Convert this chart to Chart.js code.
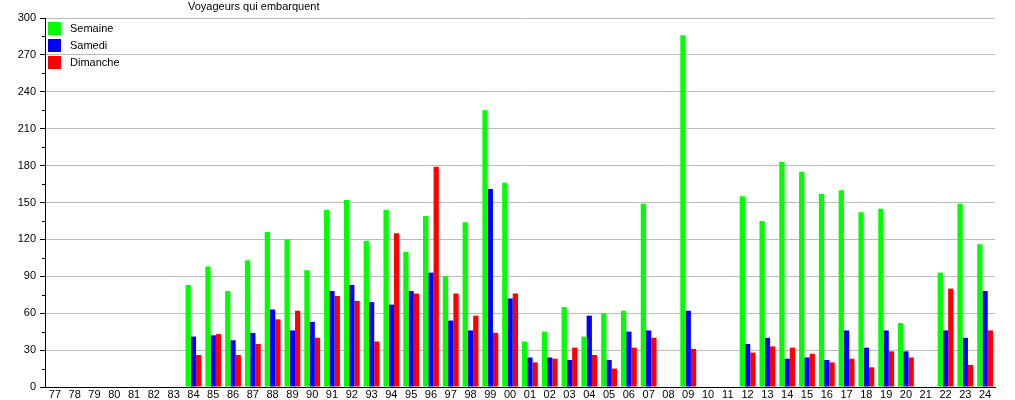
<!DOCTYPE html>
<html>
<head>
<meta charset="utf-8">
<script src="https://cdn.jsdelivr.net/npm/chart.js@4/dist/chart.umd.min.js"></script>
<style>
  html, body { margin: 0; padding: 0; background: #fff; }
  #chartBox { width: 1015px; height: 400px; }
</style>
</head>
<body>
<div id="chartBox"><canvas id="boardingChart" width="1015" height="400"></canvas></div>
<script>
const years = [
  "77", "78", "79", "80", "81", "82", "83", "84", "85", "86", "87", "88",
  "89", "90", "91", "92", "93", "94", "95", "96", "97", "98", "99", "00",
  "01", "02", "03", "04", "05", "06", "07", "08", "09", "10", "11", "12",
  "13", "14", "15", "16", "17", "18", "19", "20", "21", "22", "23", "24",
];

const semaine = [
  null, null, null, null, null, null, null, 83, 98, 78, 103, 126,
  120, 95, 144, 152, 119, 144, 110, 139, 90, 134, 225, 166,
  37, 45, 65, 41, 60, 62, 149, null, 286, null, null, 155,
  135, 183, 175, 157, 160, 142, 145, 52, null, 93, 149, 116,
];

const samedi = [
  null, null, null, null, null, null, null, 41, 42, 38, 44, 63,
  46, 53, 78, 83, 69, 67, 78, 93, 54, 46, 161, 72,
  24, 24, 22, 58, 22, 45, 46, null, 62, null, null, 35,
  40, 23, 24, 22, 46, 32, 46, 29, null, 46, 40, 78,
];

const dimanche = [
  null, null, null, null, null, null, null, 26, 43, 26, 35, 55,
  62, 40, 74, 70, 37, 125, 76, 179, 76, 58, 44, 76,
  20, 23, 32, 26, 15, 32, 40, null, 31, null, null, 28,
  33, 32, 27, 20, 23, 16, 29, 24, null, 80, 18, 46,
];

const seriesNames = ["Semaine", "Samedi", "Dimanche"];
const seriesColors = ["#00ff00", "#0000ff", "#ff0000"];
const yTickStep = 30;
const yMax = 300;
const chartTitle = "Voyageurs qui embarquent";

const FONT = "'Liberation Sans', Arial, sans-serif";

// title and vertical legend sit at fixed spots, so they are drawn by hand
const overlayPlugin = {
  id: "overlayPlugin",
  afterDraw(chart) {
    const { ctx, chartArea } = chart;
    const yScale = chart.scales.y;
    ctx.save();

    // minor ticks halfway between the labelled ones
    ctx.strokeStyle = "#000";
    ctx.lineWidth = 1;
    for (let v = yTickStep / 2; v < yMax; v += yTickStep) {
      const py = Math.round(yScale.getPixelForValue(v)) + 0.5;
      ctx.beginPath();
      ctx.moveTo(chartArea.left - 3, py);
      ctx.lineTo(chartArea.left, py);
      ctx.stroke();
    }

    ctx.font = "11px " + FONT;
    ctx.fillStyle = "#000";
    ctx.textBaseline = "middle";
    ctx.textAlign = "left";
    ctx.fillText(chartTitle, 188, 7);

    chart.data.datasets.forEach((ds, i) => {
      const top = chartArea.top + 4 + i * 17;
      ctx.fillStyle = ds.backgroundColor;
      ctx.fillRect(chartArea.left + 3, top, 13, 13);
      ctx.fillStyle = "#000";
      ctx.fillText(ds.label, chartArea.left + 25, top + 7);
    });

    ctx.restore();
  },
};

function createBoardingChart() {
  const canvas = document.getElementById("boardingChart");
  if (!canvas) {
    return;
  }

  const values = [semaine, samedi, dimanche];

  new Chart(canvas, {
    type: "bar",
    data: {
      labels: years,
      datasets: seriesNames.map((name, i) => ({
        label: name,
        data: values[i],
        backgroundColor: seriesColors[i],
        borderWidth: 0,
        categoryPercentage: 0.8,
        barPercentage: 1.0,
      })),
    },
    options: {
      responsive: false,
      animation: false,
      layout: { padding: { top: 18, right: 20, left: 0, bottom: 0 } },
      scales: {
        x: {
          grid: { display: false, drawTicks: false },
          border: { color: "#000", width: 1 },
          ticks: {
            color: "#000",
            font: { family: FONT, size: 11 },
            padding: 1,
            autoSkip: false,
            maxRotation: 0,
          },
          afterFit(scale) {
            scale.height = 13;
          },
        },
        y: {
          min: 0,
          max: yMax,
          grid: {
            color: "#bbbbbb",
            tickColor: "#000",
            tickLength: 5,
          },
          border: { color: "#000", width: 1 },
          ticks: {
            stepSize: yTickStep,
            color: "#000",
            font: { family: FONT, size: 11 },
            padding: 4,
          },
          afterFit(scale) {
            scale.width = 45;
          },
        },
      },
      plugins: {
        legend: { display: false },
        title: { display: false },
        tooltip: { enabled: false },
      },
    },
    plugins: [overlayPlugin],
  });
}

window.addEventListener("DOMContentLoaded", () => {
  createBoardingChart();
});
</script>
</body>
</html>
